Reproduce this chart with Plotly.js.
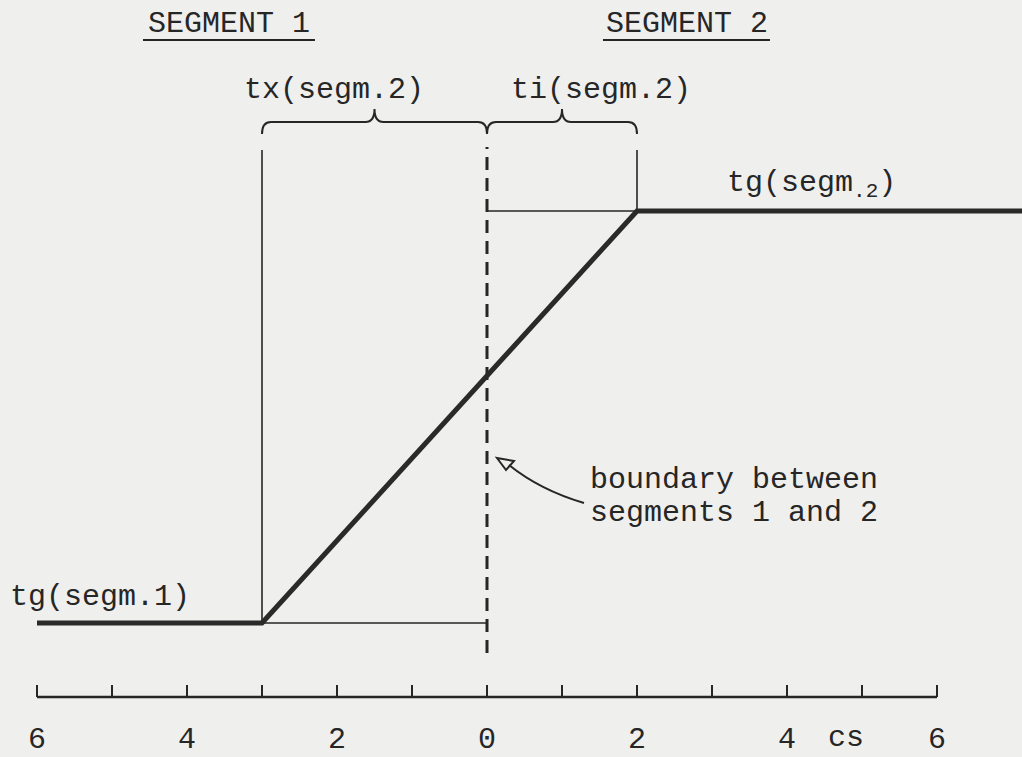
<!DOCTYPE html>
<html>
<head>
<meta charset="utf-8">
<script src="https://cdn.plot.ly/plotly-3.0.1.min.js"></script>
<style>
  html, body { margin: 0; padding: 0; background: #efefed; }
  #chart { width: 1022px; height: 757px; }
</style>
</head>
<body>
<div id="chart"></div>
<script>
// ---------------- data ----------------
const majorTicks = [-6, -4, -2, 0, 2, 4, 6];
const majorLabels = ['6', '4', '2', '0', '2', '4', '6'];
const minorTicks = [-5, -3, -1, 1, 3, 5];
const axisUnit = 'cs';

// thick profile: tg(segm.1) level, ramp, tg(segm.2) level
const profileX = [-6, -3, 2, 7.3];
const profileY = [0, 0, 1, 1];

const tgSegm1 = 0;      // low level
const tgSegm2 = 1;      // high level
const txStart = -3;     // start of tx(segm.2)
const boundaryX = 0;    // boundary between segments 1 and 2
const tiEnd = 2;        // end of ti(segm.2)

// ---------------- layout helpers (pixel placement) ----------------
const W = 1022, H = 757;
const X0 = 487, PXU = 75;          // x: pixel of 0, pixels per unit
const YLOW = 623, PXY = 412;       // y: pixel of low level, pixels per level unit
const X = px => (px - X0) / PXU;
const Y = py => (YLOW - py) / PXY;

const ink = '#262626';
const FONT = 'Liberation Mono, Courier New, monospace';
const guideTop = Y(150);
const axisY = Y(697);

const traces = [
  // axis line
  { x: [majorTicks[0], majorTicks[majorTicks.length - 1]], y: [axisY, axisY],
    mode: 'lines', line: { color: ink, width: 2.5 }, hoverinfo: 'skip' },
  // thin guide lines
  { x: [txStart, txStart, null, txStart, boundaryX, null, boundaryX, tiEnd, null, tiEnd, tiEnd],
    y: [tgSegm1, guideTop, null, tgSegm1, tgSegm1, null, tgSegm2, tgSegm2, null, tgSegm2, guideTop],
    mode: 'lines', line: { color: ink, width: 1.6 }, hoverinfo: 'skip' },
  // dashed boundary
  { x: [boundaryX, boundaryX], y: [Y(653), Y(147)],
    mode: 'lines', line: { color: ink, width: 3, dash: '13px,8px' }, hoverinfo: 'skip' },
  // thick profile
  { x: profileX, y: profileY, mode: 'lines',
    line: { color: '#2a2a2a', width: 5 }, hoverinfo: 'skip' }
];

function brace(xa, xb) {
  const yb = Y(134), yh = Y(122), yc = Y(109);
  const d = 9 / PXU, m = (xa + xb) / 2;
  return `M ${xa},${yb} Q ${xa},${yh} ${xa + d},${yh} L ${m - d},${yh} Q ${m},${yh} ${m},${yc} ` +
         `Q ${m},${yh} ${m + d},${yh} L ${xb - d},${yh} Q ${xb},${yh} ${xb},${yb}`;
}

const shapes = [
  { type: 'path', xref: 'x', yref: 'y', path: brace(txStart, boundaryX), line: { color: ink, width: 2 } },
  { type: 'path', xref: 'x', yref: 'y', path: brace(boundaryX, tiEnd), line: { color: ink, width: 2 } },
  // underlines
  { type: 'line', xref: 'x', yref: 'y', x0: X(143), x1: X(315), y0: Y(40), y1: Y(40), line: { color: ink, width: 2 } },
  { type: 'line', xref: 'x', yref: 'y', x0: X(603), x1: X(770), y0: Y(40), y1: Y(40), line: { color: ink, width: 2 } },
  // curved arrow
  { type: 'path', xref: 'x', yref: 'y',
    path: `M ${X(584)},${Y(503)} Q ${X(540)},${Y(490)} ${X(509)},${Y(465)}`,
    line: { color: ink, width: 2 } },
  { type: 'path', xref: 'x', yref: 'y',
    path: `M ${X(497)},${Y(458)} L ${X(514)},${Y(461)} L ${X(506)},${Y(470)} Z`,
    line: { color: ink, width: 2 } }
];

function txt(text, px, py, anchor) {
  return { text: text, x: X(px), y: Y(py), xref: 'x', yref: 'y', showarrow: false,
           xanchor: anchor || 'center', yanchor: 'middle',
           font: { family: FONT, size: 30, color: ink } };
}

const annotations = [
  txt('SEGMENT 1', 229, 24),
  txt('SEGMENT 2', 687, 24),
  txt('tx(segm.2)', 334, 90),
  txt('ti(segm.2)', 601, 90),
  txt('tg(segm<sub>.2</sub>)', 725, 184, 'left'),
  txt('tg(segm.1)', 8, 597, 'left'),
  txt('boundary between', 588, 480, 'left'),
  txt('segments 1 and 2', 588, 513, 'left'),
  txt(axisUnit, 846, 738)
];

const layout = {
  width: W, height: H,
  margin: { l: 0, r: 0, t: 0, b: 0, pad: 0 },
  paper_bgcolor: '#efefed', plot_bgcolor: '#efefed',
  showlegend: false, hovermode: false,
  font: { family: FONT, color: ink },
  xaxis: {
    range: [X(0), X(W)], anchor: 'free', position: (H - 697) / H,
    showgrid: false, zeroline: false, showline: false,
    tickmode: 'array', tickvals: majorTicks, ticktext: majorLabels,
    ticks: 'inside', ticklen: 12, tickwidth: 2, tickcolor: ink,
    minor: { tickmode: 'array', tickvals: minorTicks, ticks: 'inside', ticklen: 12, tickwidth: 2, tickcolor: ink, showgrid: false },
    tickfont: { family: FONT, size: 30, color: ink },
    ticklabelstandoff: 20, automargin: false, fixedrange: true
  },
  yaxis: {
    range: [Y(H), Y(0)], visible: false, showgrid: false, zeroline: false, fixedrange: true
  },
  shapes: shapes,
  annotations: annotations
};

Plotly.newPlot('chart', traces, layout, { displayModeBar: false, staticPlot: true });
</script>
</body>
</html>
